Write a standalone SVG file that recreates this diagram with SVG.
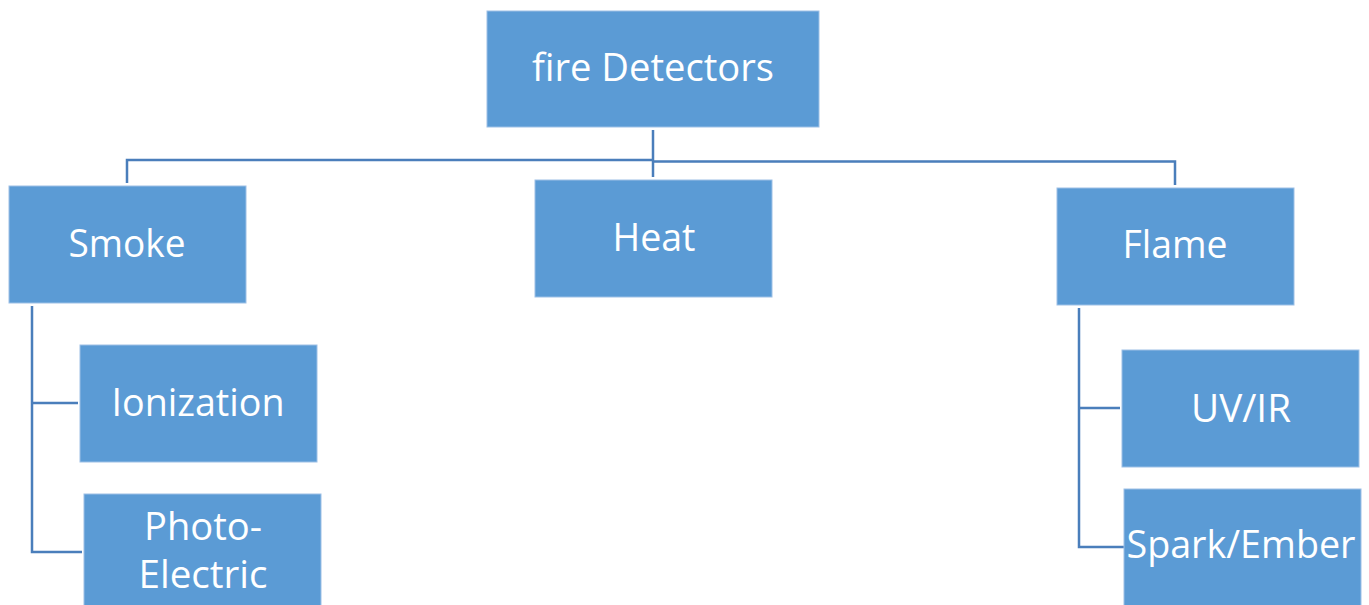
<svg xmlns="http://www.w3.org/2000/svg" width="1369" height="605" viewBox="0 0 1369 605">
<style>
.box{fill:#5b9bd5;stroke:#9dc0e6;stroke-width:1}
.lbl{font-family:"Open Sans","Noto Sans",sans-serif;font-size:38px;fill:#ffffff;text-anchor:middle}
.con{fill:none;stroke:#4a7ebb;stroke-width:2.5}
</style>
<rect width="1369" height="605" fill="#ffffff"/>
<g id="connectors">
<path class="con" d="M653 130 V177"/>
<path class="con" d="M127 183 V160 H653"/>
<path class="con" d="M653 161.5 H1175 V185"/>
<path class="con" d="M32 306 V552 H82"/>
<path class="con" d="M32 403 H78"/>
<path class="con" d="M1079 308 V547 H1124"/>
<path class="con" d="M1079 408 H1120"/>
</g>
<g id="fire-detectors">
<rect class="box" x="487" y="11" width="332" height="116"/>
<text class="lbl" x="653" y="81" textLength="242" lengthAdjust="spacingAndGlyphs">fire Detectors</text>
</g>
<g id="smoke">
<rect class="box" x="9" y="186" width="237" height="117"/>
<text class="lbl" x="127" y="257" textLength="117" lengthAdjust="spacingAndGlyphs">Smoke</text>
</g>
<g id="heat">
<rect class="box" x="535" y="180" width="237" height="117"/>
<text class="lbl" x="654" y="251" textLength="83" lengthAdjust="spacingAndGlyphs">Heat</text>
</g>
<g id="flame">
<rect class="box" x="1057" y="188" width="237" height="117"/>
<text class="lbl" x="1175" y="258" textLength="105" lengthAdjust="spacingAndGlyphs">Flame</text>
</g>
<g id="ionization">
<rect class="box" x="80" y="345" width="237" height="117"/>
<text class="lbl" x="198" y="416" textLength="173" lengthAdjust="spacingAndGlyphs">Ionization</text>
</g>
<g id="photo-electric">
<rect class="box" x="84" y="494" width="237" height="117"/>
<text class="lbl" x="203" y="540" textLength="118" lengthAdjust="spacingAndGlyphs">Photo-</text>
<text class="lbl" x="203" y="588" textLength="129" lengthAdjust="spacingAndGlyphs">Electric</text>
</g>
<g id="uv-ir">
<rect class="box" x="1122" y="350" width="237" height="117"/>
<text class="lbl" x="1241" y="422" textLength="100" lengthAdjust="spacingAndGlyphs">UV/IR</text>
</g>
<g id="spark-ember">
<rect class="box" x="1124" y="489" width="237" height="117"/>
<text class="lbl" x="1241" y="558" textLength="229" lengthAdjust="spacingAndGlyphs">Spark/Ember</text>
</g>
</svg>
